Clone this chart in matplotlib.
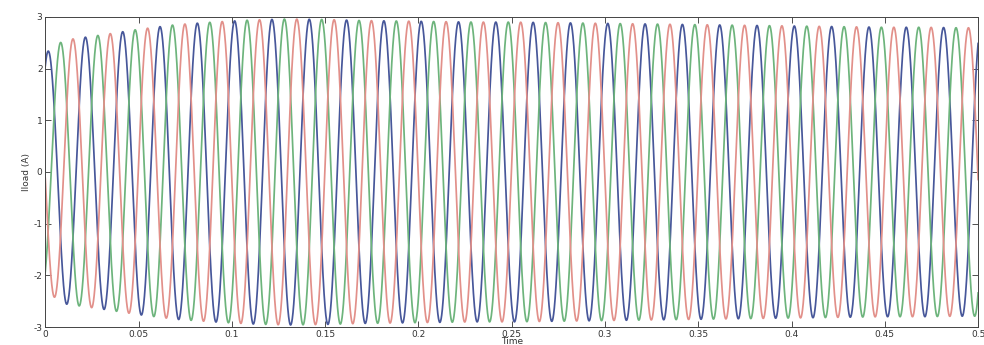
import numpy as np
import matplotlib.pyplot as plt

plt.rcParams['axes.unicode_minus'] = False

# three-phase load current, 50 Hz
freq = 50.0
t_first_peak = 0.0015   # first peak of phase a (blue)

# peak amplitude for each cycle (0..0.5 s, one value per 20 ms cycle)
cycle_times = [0.0, 0.01, 0.03, 0.05, 0.07, 0.09, 0.11, 0.13, 0.15, 0.17, 0.19,
               0.21, 0.23, 0.25, 0.27, 0.29, 0.31, 0.33, 0.35, 0.37, 0.39,
               0.41, 0.43, 0.45, 0.47, 0.49, 0.5]
cycle_amps = [2.30, 2.55, 2.65, 2.76, 2.85, 2.90, 2.94, 2.96, 2.95, 2.93, 2.92,
              2.91, 2.90, 2.90, 2.89, 2.88, 2.87, 2.86, 2.85, 2.84, 2.83,
              2.82, 2.81, 2.80, 2.80, 2.79, 2.79]

phase_names = ['a', 'b', 'c']
phase_shift_deg = [0, -120, -240]
phase_colors = ['#47579a', '#6db47c', '#e2908a']

t = np.linspace(0, 0.5, 20001)
env = np.interp(t, cycle_times, cycle_amps)

fig = plt.figure(figsize=(9.84, 3.45), dpi=100)
ax = fig.add_axes([0.046, 0.052, 0.948, 0.899])

for name, sh, col in zip(phase_names, phase_shift_deg, phase_colors):
    w = 2 * np.pi * freq * (t - t_first_peak) + np.deg2rad(sh)
    ax.plot(t, env * np.cos(w), color=col, linewidth=1.25)

ax.set_xlim(0, 0.5)
ax.set_ylim(-3, 3)
ax.set_xticks([0, 0.05, 0.1, 0.15, 0.2, 0.25, 0.3, 0.35, 0.4, 0.45, 0.5])
ax.set_xticklabels(['0', '0.05', '0.1', '0.15', '0.2', '0.25', '0.3',
                    '0.35', '0.4', '0.45', '0.5'])
ax.set_yticks([-3, -2, -1, 0, 1, 2, 3])
ax.tick_params(direction='in', top=True, right=True, labelsize=6.5,
               length=4, width=0.6, pad=2, colors='#333333')
for s in ax.spines.values():
    s.set_linewidth(0.7)
    s.set_color('#444444')

ax.set_ylabel('Iload (A)', fontsize=6.5, labelpad=2, color='#333333')
ax.set_xlabel('Time', fontsize=6.5, labelpad=-1, color='#333333')

fig.savefig('out.png', dpi=100)
